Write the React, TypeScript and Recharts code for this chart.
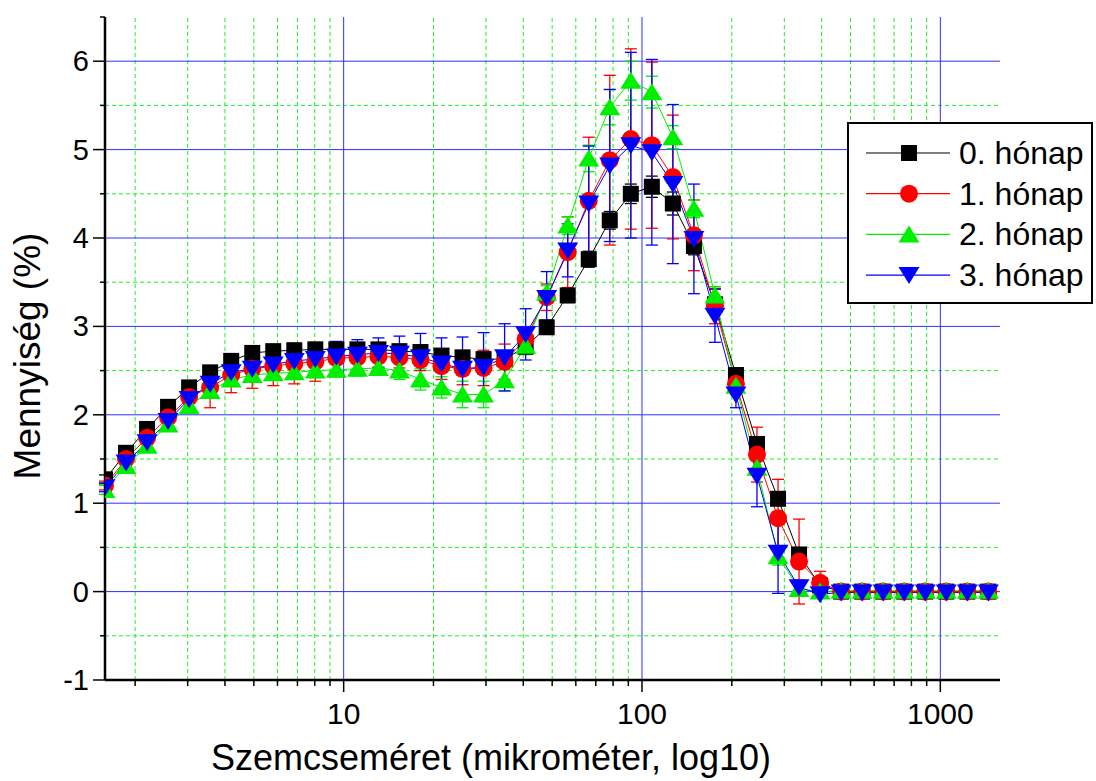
import React from "react";
import { LineChart, Line, XAxis, YAxis, ErrorBar, ReferenceLine, Legend, Label } from "recharts";

// particle size bins (µm), log spaced
const sizes = [
  1.585, 1.864, 2.193, 2.579, 3.034, 3.568, 4.198, 4.938, 5.808, 6.832,
  8.035, 9.452, 11.12, 13.08, 15.38, 18.09, 21.28, 25.03, 29.44, 34.63,
  40.74, 47.92, 56.36, 66.3, 77.98, 91.73, 107.9, 126.9, 149.3, 175.6,
  206.5, 242.9, 285.8, 336.1, 395.4, 465.1, 547.0, 643.4, 756.8, 890.2,
  1047, 1232, 1449,
];

const month0 = [
  1.27, 1.57, 1.84, 2.09, 2.31, 2.48, 2.61, 2.7, 2.72, 2.73,
  2.74, 2.74, 2.74, 2.74, 2.72, 2.71, 2.67, 2.65, 2.63, 2.63,
  2.77, 2.99, 3.35, 3.76, 4.2, 4.5, 4.58, 4.39, 3.91, 3.25,
  2.45, 1.67, 1.05, 0.42, 0.07, 0, 0, 0, 0, 0,
  0, 0, 0,
];
const err0 = [
  0.05, 0.05, 0.05, 0.05, 0.05, 0.05, 0.05, 0.05, 0.05, 0.05,
  0.05, 0.05, 0.05, 0.05, 0.05, 0.05, 0.05, 0.05, 0.05, 0.05,
  0.08, 0.08, 0.08, 0.09, 0.1, 0.11, 0.12, 0.13, 0.1, 0.08,
  0.06, 0.06, 0.05, 0.05, 0.02, 0.01, 0.01, 0.01, 0.01, 0.01,
  0.01, 0.01, 0.01,
];

const month1 = [
  1.2, 1.5, 1.74, 1.97, 2.2, 2.31, 2.45, 2.52, 2.55, 2.58,
  2.6, 2.64, 2.65, 2.66, 2.65, 2.62, 2.55, 2.52, 2.53, 2.6,
  2.86, 3.33, 3.84, 4.42, 4.88, 5.12, 5.05, 4.69, 4.03, 3.23,
  2.35, 1.55, 0.83, 0.34, 0.1, 0, 0, 0, 0, 0,
  0, 0, 0,
];
const err1 = [
  0.05, 0.08, 0.1, 0.12, 0.18, 0.23, 0.2, 0.22, 0.22, 0.23,
  0.22, 0.15, 0.15, 0.12, 0.12, 0.12, 0.15, 0.18, 0.2, 0.2,
  0.12, 0.15, 0.4, 0.72, 0.96, 1.02, 0.94, 0.7, 0.4, 0.2,
  0.12, 0.31, 0.44, 0.48, 0.13, 0.01, 0.01, 0.01, 0.01, 0.01,
  0.01, 0.01, 0.01,
];

const month2 = [
  1.15, 1.42, 1.65, 1.89, 2.1, 2.27, 2.4, 2.45, 2.47, 2.48,
  2.5, 2.51, 2.52, 2.53, 2.5, 2.4, 2.31, 2.23, 2.23, 2.39,
  2.78, 3.38, 4.14, 4.9, 5.48, 5.78, 5.65, 5.14, 4.33, 3.35,
  2.33, 1.4, 0.4, 0.03, 0, 0.01, 0.01, 0.01, 0.01, 0.01,
  0.01, 0.01, 0.01,
];
const err2 = [
  0.05, 0.05, 0.06, 0.06, 0.07, 0.08, 0.08, 0.08, 0.08, 0.08,
  0.08, 0.08, 0.08, 0.08, 0.1, 0.12, 0.12, 0.15, 0.15, 0.12,
  0.1, 0.08, 0.1, 0.15, 0.2, 0.22, 0.18, 0.13, 0.1, 0.1,
  0.08, 0.08, 0.1, 0.05, 0.01, 0.01, 0.01, 0.01, 0.01, 0.01,
  0.01, 0.01, 0.01,
];

const month3 = [
  1.18, 1.46, 1.69, 1.93, 2.18, 2.35, 2.48, 2.52, 2.57, 2.61,
  2.63, 2.66, 2.68, 2.7, 2.69, 2.65, 2.58, 2.52, 2.54, 2.65,
  2.91, 3.32, 3.86, 4.39, 4.82, 5.05, 4.97, 4.61, 3.99, 3.12,
  2.23, 1.31, 0.44, 0.05, -0.03, -0.01, -0.01, -0.01, -0.01, -0.01,
  -0.01, -0.01, -0.01,
];
const err3 = [
  0.05, 0.06, 0.07, 0.08, 0.1, 0.12, 0.13, 0.14, 0.15, 0.15,
  0.16, 0.17, 0.17, 0.17, 0.2, 0.27, 0.29, 0.36, 0.39, 0.38,
  0.29, 0.3, 0.3, 0.65, 0.86, 1.05, 1.05, 0.9, 0.62, 0.3,
  0.15, 0.35, 0.46, 0.08, 0.02, 0.02, 0.02, 0.02, 0.02, 0.02,
  0.02, 0.02, 0.02,
];

const seriesNames = ["0. hónap", "1. hónap", "2. hónap", "3. hónap"];

const xMajor = [10, 100, 1000];
const xMinor = [2, 3, 4, 5, 6, 7, 8, 9, 20, 30, 40, 50, 60, 70, 80, 90, 200, 300, 400, 500, 600, 700, 800, 900];
const yMajor = [0, 1, 2, 3, 4, 5, 6];
const yMinor = [-0.5, 0.5, 1.5, 2.5, 3.5, 4.5, 5.5];
const yTicks = [-1, -0.5, 0, 0.5, 1, 1.5, 2, 2.5, 3, 3.5, 4, 4.5, 5, 5.5, 6, 6.5];
const xTicks = [...xMinor, ...xMajor].sort((a, b) => a - b);

const data = sizes.map((size, i) => ({
  size,
  m0: month0[i], e0: err0[i],
  m1: month1[i], e1: err1[i],
  m2: month2[i], e2: err2[i],
  m3: month3[i], e3: err3[i],
}));

const FONT = "'Liberation Sans', Arial, sans-serif";
const BLUE_GRID = "#3030ff";
const GREEN_GRID = "#22ee22";

type Shape = "square" | "circle" | "up" | "down";

const series: { key: string; err: string; color: string; shape: Shape }[] = [
  { key: "m0", err: "e0", color: "#000000", shape: "square" },
  { key: "m1", err: "e1", color: "#ff0000", shape: "circle" },
  { key: "m2", err: "e2", color: "#00ee00", shape: "up" },
  { key: "m3", err: "e3", color: "#0000ff", shape: "down" },
];

function Marker({ cx, cy, shape, color }: { cx: number; cy: number; shape: Shape; color: string }) {
  if (shape === "square") return <rect x={cx - 8} y={cy - 8} width={16} height={16} fill={color} />;
  if (shape === "circle") return <circle cx={cx} cy={cy} r={9} fill={color} />;
  if (shape === "up")
    return <polygon points={`${cx},${cy - 9} ${cx - 10.5},${cy + 8} ${cx + 10.5},${cy + 8}`} fill={color} />;
  return <polygon points={`${cx},${cy + 9} ${cx - 10.5},${cy - 8} ${cx + 10.5},${cy - 8}`} fill={color} />;
}

const makeDot = (shape: Shape, color: string) => (props: any) => {
  const { cx, cy, index } = props;
  if (cx == null || cy == null) return <g key={index} />;
  return (
    <g key={index}>
      <Marker cx={cx} cy={cy} shape={shape} color={color} />
    </g>
  );
};

const renderXTick = (props: any) => {
  const { x, y, payload } = props;
  const major = xMajor.includes(payload.value);
  return (
    <g key={`xt${payload.value}`}>
      <line x1={x} x2={x} y1={y} y2={y + (major ? 12 : 6)} stroke="#000" strokeWidth={1.5} />
      {major && (
        <g transform={`translate(${x},${y + 44})`}>
          <text x={0} y={0} textAnchor="middle" fontSize={30} fontFamily={FONT} fill="#000">
            {String(payload.value)}
          </text>
        </g>
      )}
    </g>
  );
};

const renderYTick = (props: any) => {
  const { x, y, payload } = props;
  const major = Number.isInteger(payload.value);
  return (
    <g key={`yt${payload.value}`}>
      <line x1={x - (major ? 12 : 5)} x2={x} y1={y} y2={y} stroke="#000" strokeWidth={1.5} />
      {major && (
        <text x={x - 16} y={y + 10} textAnchor="end" fontSize={29} fontFamily={FONT} fill="#000">
          {String(payload.value)}
        </text>
      )}
    </g>
  );
};

function LegendBox() {
  return (
    <svg width={246} height={182} style={{ display: "block" }}>
      <rect x={1} y={1} width={244} height={180} fill="#fff" stroke="#000" strokeWidth={2} />
      {series.map((s, i) => {
        const cy = 31 + i * 40.7;
        return (
          <g key={s.key}>
            <line x1={19} x2={103} y1={cy} y2={cy} stroke={s.color} strokeWidth={1.2} />
            <Marker cx={62} cy={cy} shape={s.shape} color={s.color} />
            <text x={112} y={cy + 11} fontSize={32} fontFamily={FONT} fill="#000">
              {seriesNames[i]}
            </text>
          </g>
        );
      })}
    </svg>
  );
}

export default function App() {
  return (
    <div style={{ position: "absolute", left: 0, top: 0, width: 1096, height: 781, background: "#fff" }}>
      <LineChart
        width={1096}
        height={781}
        data={data}
        margin={{ top: 17, right: 96, bottom: 0, left: 0 }}
        style={{ fontFamily: FONT }}
      >
        {xMinor.map((v) => (
          <ReferenceLine key={`xm${v}`} x={v} stroke={GREEN_GRID} strokeDasharray="4 3" strokeWidth={1} />
        ))}
        {yMinor.map((v) => (
          <ReferenceLine key={`ym${v}`} y={v} stroke={GREEN_GRID} strokeDasharray="4 3" strokeWidth={1} />
        ))}
        {xMajor.map((v) => (
          <ReferenceLine key={`xM${v}`} x={v} stroke={BLUE_GRID} strokeWidth={1} />
        ))}
        {yMajor.map((v) => (
          <ReferenceLine key={`yM${v}`} y={v} stroke={BLUE_GRID} strokeWidth={1} />
        ))}
        <XAxis
          dataKey="size"
          type="number"
          scale="log"
          domain={[1.585, 1585]}
          allowDataOverflow
          ticks={xTicks}
          interval={0}
          tickSize={0}
          tickMargin={0}
          tick={renderXTick}
          tickLine={false}
          height={101}
          axisLine={{ stroke: "#000", strokeWidth: 2.5 }}
        >
          <Label
            content={() => (
              <text x={491} y={770} textAnchor="middle" fontSize={36} fontFamily={FONT} fill="#000">
                Szemcseméret (mikrométer, log10)
              </text>
            )}
          />
        </XAxis>
        <YAxis
          type="number"
          domain={[-1, 6.5]}
          ticks={yTicks}
          interval={0}
          tickSize={0}
          tickMargin={0}
          tick={renderYTick}
          tickLine={false}
          width={105}
          axisLine={{ stroke: "#000", strokeWidth: 2.5 }}
        >
          <Label
            content={() => (
              <text
                x={40}
                y={356}
                transform="rotate(-90 40 356)"
                textAnchor="middle"
                fontSize={37}
                fontFamily={FONT}
                fill="#000"
              >
                Mennyiség (%)
              </text>
            )}
          />
        </YAxis>
        {series.map((s) => (
          <Line
            key={s.key}
            dataKey={s.key}
            stroke={s.color}
            strokeWidth={1}
            type="linear"
            isAnimationActive={false}
            dot={makeDot(s.shape, s.color)}
            activeDot={false}
          >
            <ErrorBar dataKey={s.err} direction="y" width={6} stroke={s.color} strokeWidth={1.3} />
          </Line>
        ))}
        <Legend
          layout="horizontal"
          verticalAlign="middle"
          align="center"
          wrapperStyle={{ left: 847, top: 122, width: 246, height: 182 }}
          content={() => <LegendBox />}
        />
      </LineChart>
    </div>
  );
}
